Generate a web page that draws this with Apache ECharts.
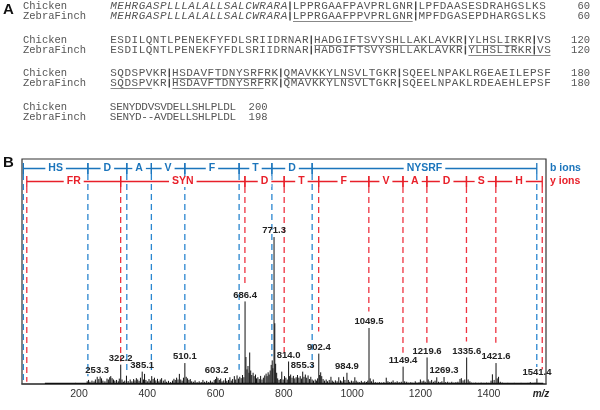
<!DOCTYPE html>
<html><head><meta charset="utf-8">
<script src="https://cdn.jsdelivr.net/npm/echarts@6/dist/echarts.min.js"></script>
<style>html,body{margin:0;padding:0;background:#fff}#c{width:600px;height:410px}</style>
</head><body><div id="c"></div>
<script>
// ---------- Panel A: sequence alignment ----------
const speciesNames = ['Chicken', 'ZebraFinch'];
const chickenRows = [
  'MEHRGASPLLLALALLSALCWRARA|LPPRGAAFPAVPRLGNR|LPFDAASESDRAHGSLKS',
  'ESDILQNTLPENEKFYFDLSRIIDRNAR|HADGIFTSVYSHLLAKLAVKR|YLHSLIRKR|VS',
  'SQDSPVKR|HSDAVFTDNYSRFRK|QMAVKKYLNSVLTGKR|SQEELNPAKLRGEAEILEPSF',
  'SENYDDVSVDELLSHLPLDL'
];
const zebraRows = [
  'MEHRGASPLLLALALLSALCWRARA|LPPRGAAFPPVPRLGNR|MPFDGASEPDHARGSLKS',
  'ESDILQNTLPENEKFYFDLSRIIDRNAR|HADGIFTSVYSHLLAKLAVKR|YLHSLIRKR|VS',
  'SQDSPVKR|HSDAVFTDNYSRFRK|QMAVKKYLNSVLTGKR|SQEELNPAKLRDEAEHLEPSF',
  'SENYD--AVDELLSHLPLDL'
];
const chickenRowEnds = ['60', '120', '180', '200'];
const zebraRowEnds = ['60', '120', '180', '198'];
// underlined residue ranges [start, end) per row
const chickenUnderlines = [[], [[28, 49], [49, 56]], [[8, 23], [23, 36]], []];
const zebraUnderlines = [[[25, 42]], [[49, 60]], [[0, 6], [8, 21]], []];
const signalPeptideLength = 25;

// ---------- Panel B: MS/MS spectrum ----------
const xTickLabels = [200, 400, 600, 800, 1000, 1200, 1400];
const spectrumMz = [150,190,224,228,232,238,244,248,258,262,266,270,276,282,286,290,293,297,301,305,310,315,318,326,330,
 334,339,344,350,355,360,364,368,372,376,380,389,392,396,400,405,409,413,417,421,425,430,434,438,442,447,452,456,462,468,
 474,478,482,486,490,494,498,502,506,514,518,522,526,530,535,540,546,552,558,563,568,574,580,585,590,596,600,607,
 611,615,619,624,629,633,638,642,646,650,655,659,663,667,671,675,679,683,
 689,692,695,698,700,703,706,710,713,717,720,724,728,732,736,740,744,748,751,754,757,760,763,766,768,773.5,776,779,782,786,790,794,798,
 802,806,810,817,820,824,828,832,836,840,844,848,852,859,863,867,871,875,879,883,887,892,896,899,905,908,911,915,919,924,928,933,938,
 942,946,951,956,961,966,970,975,979,989,993,998,1003,1008,1012,1017,1022,1027,1032,1037,1042,1046,1053,1057,1062,1068,1074,1080,1086,
 1093,1100,1105,1110,1115,1120,1126,1132,1138,1144,1154,1160,1166,1172,1178,1185,1190,1196,1200,1205,1210,1214,1223,1228,1233,1238,
 1243,1248,1253,1258,1263,1274,1280,1286,1292,1298,1304,1310,1316,1320,1325,1330,1340,1345,1350,1356,1362,1370,1378,1386,1394,1400,
 1407,1411,1416,1425,1429,1434,1440,1448,1456,1465,1475,1485,1495,1505,1515,1522,1530,1536,1547];
const spectrumInt = [0.4,0.5,1.2,1.8,1.0,1.5,1.2,2.0,2.2,3.3,2.5,1.5,1.2,2.4,2.0,3.0,3.5,2.6,2.0,1.5,1.8,1.2,2.4,2.0,1.0,
 1.5,3.7,1.3,2.0,1.2,2.2,1.6,2.6,2.0,1.4,2.8,2.0,4.5,1.8,1.2,2.2,1.5,3.5,2.2,2.8,1.6,2.3,1.2,2.0,2.6,1.5,2.0,1.0,1.4,0.8,
 1.5,2.3,1.8,2.8,2.0,4.5,2.0,1.5,2.8,3.2,2.5,1.8,2.2,1.2,1.0,1.6,0.8,1.2,0.8,1.8,1.0,1.4,0.9,1.5,1.0,1.8,2.2,2.6,
 1.8,2.4,1.2,1.6,2.6,1.4,1.8,3.0,1.5,2.2,3.5,2.0,3.8,2.4,3.2,2.6,4.0,3.0,
 12,6.5,8,5,14,6,4,5,3.5,4.2,2.5,3.0,2.2,3.6,2.0,2.8,3.8,4.6,3.5,5.2,4.2,6.0,8.5,10.5,7,27,9,5,2.5,1.8,2.2,5.5,2.0,
 3.5,2.8,2.0,3.5,4.2,2.8,3.6,2.5,3.0,4.0,2.8,3.5,2.4,3.2,4.2,2.8,3.8,2.2,3.2,2.0,1.5,2.0,1.5,2.5,4,5.2,3.5,2.2,1.5,2.0,1.2,1.8,3.2,
 1.5,1.0,1.6,1.2,3.0,1.6,1.2,3.2,1.8,1.8,1.0,1.5,1.2,3.0,1.5,1.0,0.8,1.4,0.8,1.2,0.9,1.5,2.5,1.2,2.0,0.8,0.6,0.8,0.6,
 0.8,2.8,1.2,0.8,1.0,1.6,0.8,1.2,0.8,1.0,1.2,1.0,0.6,0.8,0.6,1.2,0.6,0.8,2.0,1.2,1.5,1.0,2.0,1.2,1.8,1.0,
 1.5,3.0,1.0,0.8,1.2,0.8,1.0,0.6,1.0,0.6,0.8,1.0,2.2,2.6,1.6,2.0,2.0,1.2,0.6,0.5,0.6,0.5,0.6,0.5,0.6,0.5,
 1.5,4.3,1.8,2.5,3.2,1.0,0.6,0.4,0.5,0.4,0.5,0.4,0.5,0.4,0.5,0.8,0.5,0.6,0.5];
const baselineMz = [100, 1560];
const baselineInt = [0.3, 0.3];
const labeledMz = [253.3,322.2,385.1,510.1,603.2,686.4,771.3,814.0,855.3,902.4,984.9,1049.5,1149.4,1219.6,1269.3,1335.6,1421.6,1541.4];
const labeledInt = [3.2,8.6,5.5,9.3,3.2,36.7,65.3,10.0,5.5,13.5,5.0,24.9,7.7,11.8,3.1,11.8,9.3,2.4];

// fragment ion ladders
const bIonMz = [37, 226, 340, 412, 510, 669, 765, 883, 1541];
const bIonResidues = ['HS', 'D', 'A', 'V', 'F', 'T', 'D', 'NYSRF'];
const bIonDashEnd = [1.0, 3.4, 5.0, 5.6, 14.5, 6.3, 12.3, 7.6, 7.6];
const yIonMz = [47, 322, 686, 801, 902, 1049, 1149, 1219, 1335, 1421, 1557];
const yIonResidues = ['FR', 'SYN', 'D', 'T', 'F', 'V', 'A', 'D', 'S', 'H'];
const yIonDashEnd = [1.0, 10.0, 44.1, 13.9, 23.3, 32.2, 13.9, 18.3, 18.9, 18.3, 6.4];

// ---------- styles / layout ----------
const BLUE = '#1b75bc', RED = '#e8202a', BLUE_D = '#2a86d0', RED_D = '#ee3340';
const SEQ_FONT = '"Liberation Mono", "DejaVu Sans Mono", monospace';
const SANS = '"Liberation Sans", Arial, sans-serif';
const X0 = 110, PITCH = 7.1, BAR_W = 5, PITCH4 = 6.3;
const rowY = [[6, 16], [40, 50], [73, 83], [107, 117]];
const B_Y = 168.5, Y_Y = 181.5;

const gfx = [];
gfx.push({type: 'text', x: 3, y: 10, style: {text: 'A', font: 'bold 15px ' + SANS, fill: '#111', verticalAlign: 'middle'}});
gfx.push({type: 'text', x: 3, y: 163, style: {text: 'B', font: 'bold 15px ' + SANS, fill: '#111', verticalAlign: 'middle'}});

function layoutRow(str, pitch) {
  let x = X0; const chars = [], bars = [];
  for (const ch of str) {
    if (ch === '|') { bars.push(x + BAR_W / 2); x += BAR_W; }
    else { chars.push({ch, x: x + pitch / 2}); x += pitch; }
  }
  return {chars, bars};
}
const allRows = [chickenRows, zebraRows];
const allEnds = [chickenRowEnds, zebraRowEnds];
const allUnder = [chickenUnderlines, zebraUnderlines];
for (let r = 0; r < 4; r++) {
  for (let s = 0; s < 2; s++) {
    const y = rowY[r][s];
    gfx.push({type: 'text', x: 23, y, style: {text: speciesNames[s], font: '10.5px ' + SEQ_FONT, fill: '#555', verticalAlign: 'middle'}});
    const pitch = r === 3 ? PITCH4 : PITCH;
    const L = layoutRow(allRows[s][r], pitch);
    L.chars.forEach((c, i) => {
      const it = (r === 0 && i < signalPeptideLength) ? 'italic ' : '';
      gfx.push({type: 'text', x: c.x, y, style: {text: c.ch, font: it + '11px ' + SEQ_FONT, fill: '#555', align: 'center', verticalAlign: 'middle'}});
    });
    L.bars.forEach(bx => gfx.push({type: 'line', shape: {x1: bx, y1: y - 4.5, x2: bx, y2: y + 4.5}, style: {stroke: '#444', lineWidth: 1.4}}));
    allUnder[s][r].forEach(([a, b]) => {
      const x1 = L.chars[a].x - pitch / 2 + 0.5, x2 = L.chars[b - 1].x + pitch / 2 - 0.5;
      gfx.push({type: 'line', shape: {x1, y1: y + 5.5, x2, y2: y + 5.5}, style: {stroke: '#888', lineWidth: 1.2}});
    });
    if (r < 3) {
      gfx.push({type: 'text', x: 590, y, style: {text: allEnds[s][r], font: '10.5px ' + SEQ_FONT, fill: '#555', align: 'right', verticalAlign: 'middle'}});
    } else {
      const endX = X0 + (allRows[s][r].length + 2) * PITCH4;
      gfx.push({type: 'text', x: endX, y, style: {text: allEnds[s][r], font: '10.5px ' + SEQ_FONT, fill: '#555', verticalAlign: 'middle'}});
    }
  }
}
gfx.push({type: 'text', x: 550, y: B_Y, style: {text: 'b ions', font: 'bold 10.5px ' + SANS, fill: BLUE, verticalAlign: 'middle'}});
gfx.push({type: 'text', x: 550, y: Y_Y, style: {text: 'y ions', font: 'bold 10.5px ' + SANS, fill: RED, verticalAlign: 'middle'}});
gfx.push({type: 'text', x: 541, y: 394, style: {text: 'm/z', font: 'italic bold 10px ' + SANS, fill: '#222', align: 'center', verticalAlign: 'middle'}});

// ---------- series ----------
function stickSeries(mz, inten) {
  return {
    type: 'custom', z: 3, silent: true,
    data: mz.map((m, i) => [m, inten[i]]),
    encode: {x: 0, y: 1},
    renderItem(params, api) {
      const p0 = api.coord([api.value(0), 0]);
      const p1 = api.coord([api.value(0), api.value(1)]);
      return {type: 'line', shape: {x1: p0[0], y1: p0[1], x2: p1[0], y2: p1[1]}, style: {stroke: '#111', lineWidth: 1}};
    }
  };
}
function dashSeries(mz, ends, color, topPx) {
  return {
    type: 'custom', z: 2, silent: true,
    data: mz.map((m, i) => [m, ends[i]]),
    encode: {x: 0, y: 1},
    renderItem(params, api) {
      const p = api.coord([api.value(0), api.value(1)]);
      return {type: 'line', shape: {x1: p[0], y1: topPx, x2: p[0], y2: p[1]}, style: {stroke: color, lineWidth: 1.3, lineDash: [6, 4]}};
    }
  };
}
function ladderSeries(mz, names, color, yPx) {
  return {
    type: 'custom', z: 4, silent: true,
    data: mz.slice(0, -1).map((m, i) => [m, mz[i + 1]]),
    encode: {x: [0, 1]},
    renderItem(params, api) {
      const a = api.coord([api.value(0), 0])[0];
      const b = api.coord([api.value(1), 0])[0];
      const ls = {stroke: color, lineWidth: 1.3};
      return {type: 'group', children: [
        {type: 'line', shape: {x1: a, y1: yPx, x2: b, y2: yPx}, style: ls},
        {type: 'line', shape: {x1: a, y1: yPx - 5.5, x2: a, y2: yPx + 5.5}, style: ls},
        {type: 'line', shape: {x1: b, y1: yPx - 5.5, x2: b, y2: yPx + 5.5}, style: ls},
        {type: 'text', x: (a + b) / 2, y: yPx, z2: 5, style: {text: names[params.dataIndex], font: 'bold 10.5px ' + SANS, fill: color,
          align: 'center', verticalAlign: 'middle', backgroundColor: '#fff', padding: [0, 3]}}
      ]};
    }
  };
}
const labelSeries = {
  type: 'custom', z: 5, silent: true,
  data: labeledMz.map((m, i) => [m, labeledInt[i]]),
  encode: {x: 0, y: 1},
  renderItem(params, api) {
    const p0 = api.coord([api.value(0), 0]);
    const p1 = api.coord([api.value(0), api.value(1)]);
    return {type: 'group', children: [
      {type: 'line', shape: {x1: p0[0], y1: p0[1], x2: p1[0], y2: p1[1]}, style: {stroke: '#111', lineWidth: 1}},
      {type: 'text', x: p1[0], y: p1[1] - 1.5, style: {text: labeledMz[params.dataIndex].toFixed(1), font: 'bold 9.5px ' + SANS,
        fill: '#222', align: 'center', verticalAlign: 'bottom'}}
    ]};
  }
};

const chart = echarts.init(document.getElementById('c'), null, {renderer: 'canvas'});
chart.setOption({
  animation: false,
  backgroundColor: '#fff',
  grid: {left: 22, right: 54, top: 159, bottom: 26, show: true, borderColor: '#333', borderWidth: 1.2},
  xAxis: {
    type: 'value', min: 33, max: 1568,
    axisLine: {show: true, onZero: false, lineStyle: {color: '#444', width: 1.6}},
    axisTick: {show: false}, splitLine: {show: false},
    axisLabel: {customValues: xTickLabels, formatter: v => String(v), fontSize: 10.5, color: '#333', margin: 5, fontFamily: SANS}
  },
  yAxis: {type: 'value', min: 0, max: 100, show: false},
  graphic: {elements: gfx},
  series: [
    {type: 'line', z: 3, silent: true, symbol: 'none', data: baselineMz.map((m, i) => [m, baselineInt[i]]), lineStyle: {color: '#111', width: 1.2}},
    stickSeries(spectrumMz, spectrumInt),
    labelSeries,
    dashSeries(bIonMz, bIonDashEnd, BLUE_D, 174),
    dashSeries(yIonMz, yIonDashEnd, RED_D, 187),
    ladderSeries(bIonMz, bIonResidues, BLUE, B_Y),
    ladderSeries(yIonMz, yIonResidues, RED, Y_Y)
  ]
});
</script></body></html>
